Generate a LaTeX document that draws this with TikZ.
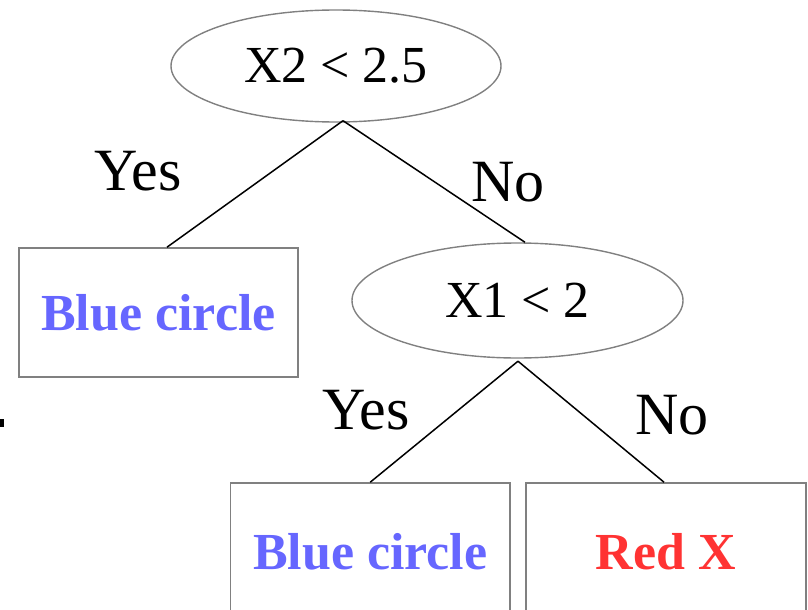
\documentclass[tikz,border=0pt]{standalone}
\usepackage{fontspec}
\setmainfont{Liberation Serif}
\usetikzlibrary{shapes.geometric,calc}
\definecolor{nodeblue}{RGB}{102,102,255}
\definecolor{nodered}{RGB}{255,51,51}
\definecolor{bordergray}{RGB}{128,128,128}
\tikzset{
  test/.style={ellipse, draw=bordergray, line width=1.4pt, inner sep=0pt,
    font=\fontsize{52}{60}\selectfont},
  leaf/.style={rectangle, draw=bordergray, line width=1.6pt, inner sep=0pt,
    font=\fontsize{52}{60}\selectfont\bfseries},
  edge/.style={draw=black, line width=1.5pt},
  lbl/.style={inner sep=0pt, font=\fontsize{60}{70}\selectfont}
}
\begin{document}
\begin{tikzpicture}[x=1pt,y=-1pt]
\useasboundingbox (0,0) rectangle (808,610);
\node[test, minimum width=330, minimum height=112] (e1) at (336,66) {X2 < 2.5};
\node[test, minimum width=331, minimum height=115] (e2) at (517.5,300.5) {X1 < 2};
\node[leaf, minimum width=279, minimum height=129, text=nodeblue] (b1) at (158.5,312.5) {Blue circle};
\node[leaf, minimum width=279.5, minimum height=138, text=nodeblue] (b2) at (370.25,552) {Blue circle};
\node[leaf, minimum width=280, minimum height=138, text=nodered] (b3) at (666,552) {Red X};
\coordinate (a1) at ($(e1.south)+(7,-2)$);
\coordinate (a2) at ($(e2.south)+(0.5,2.5)$);
\draw[edge] (a1) -- ($(b1.north)+(8.5,0)$);
\draw[edge] (a1) -- ($(e2.north)+(7.5,0)$);
\draw[edge] (a2) -- ($(b2.north)+(0,0)$);
\draw[edge] (a2) -- ($(b3.north)+(-2,0)$);
\node[lbl] (y1) at (138,171) {Yes};
\node[lbl] (n1) at (508,182) {No};
\node[lbl] (y2) at (366,410) {Yes};
\node[lbl] (n2) at (672,415) {No};
\fill[black] (0,419) rectangle (4,427);
\end{tikzpicture}
\end{document}
